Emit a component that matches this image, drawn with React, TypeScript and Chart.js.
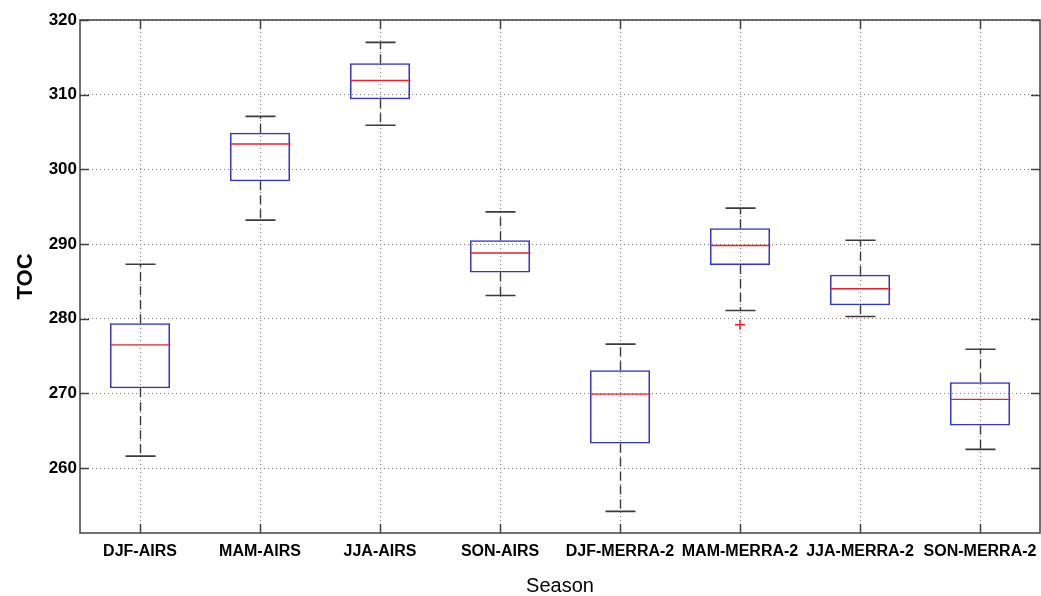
import React, { useEffect, useRef } from "react";
import { Chart, registerables } from "chart.js";

Chart.register(...registerables);

const categories = [
  "DJF-AIRS",
  "MAM-AIRS",
  "JJA-AIRS",
  "SON-AIRS",
  "DJF-MERRA-2",
  "MAM-MERRA-2",
  "JJA-MERRA-2",
  "SON-MERRA-2",
];
const whiskerLow = [261.6, 293.2, 305.9, 283.1, 254.2, 281.1, 280.3, 262.5];
const q1 = [270.7, 298.4, 309.4, 286.2, 263.3, 287.2, 281.8, 265.7];
const median = [276.5, 303.4, 311.9, 288.8, 269.9, 289.8, 284.0, 269.2];
const q3 = [279.4, 304.9, 314.2, 290.5, 273.1, 292.1, 285.9, 271.5];
const whiskerHigh = [287.3, 307.1, 317.0, 294.3, 276.6, 294.8, 290.5, 275.9];
const outliers: (number | null)[] = [null, null, null, null, null, 279.2, null, null];
const yTicks = [260, 270, 280, 290, 300, 310, 320];
const yMin = 251.3;
const yMax = 320;

const FONT = "'Liberation Sans', Arial, Helvetica, sans-serif";
const BOX_BLUE = "#3434c8";
const MEDIAN_RED = "#e8202a";
const WHISKER = "#3a3a3a";
const FRAME = "#404040";
const GRID = "#7a7a7a";

const boxPlugin = {
  id: "boxWhiskers",
  afterDatasetsDraw(chart: any) {
    const { ctx } = chart;
    const xs = chart.scales.x;
    const ys = chart.scales.y;
    const meta = chart.getDatasetMeta(0);
    ctx.save();
    categories.forEach((_, i) => {
      const bar = meta.data[i];
      const x = Math.round(xs.getPixelForValue(i)) + 0.5;
      const half = bar ? bar.width / 2 : 30;
      const capHalf = half / 2;
      const yHi = ys.getPixelForValue(whiskerHigh[i]);
      const yLo = ys.getPixelForValue(whiskerLow[i]);
      const yQ1 = ys.getPixelForValue(q1[i]);
      const yQ3 = ys.getPixelForValue(q3[i]);
      const yMed = ys.getPixelForValue(median[i]);
      ctx.strokeStyle = WHISKER;
      ctx.lineWidth = 1.4;
      ctx.setLineDash([9, 5]);
      ctx.beginPath();
      ctx.moveTo(x, yQ3);
      ctx.lineTo(x, yHi);
      ctx.moveTo(x, yQ1);
      ctx.lineTo(x, yLo);
      ctx.stroke();
      ctx.setLineDash([]);
      ctx.lineWidth = 1.6;
      ctx.beginPath();
      ctx.moveTo(x - capHalf, yHi);
      ctx.lineTo(x + capHalf, yHi);
      ctx.moveTo(x - capHalf, yLo);
      ctx.lineTo(x + capHalf, yLo);
      ctx.stroke();
      ctx.strokeStyle = MEDIAN_RED;
      ctx.lineWidth = 1.4;
      ctx.beginPath();
      ctx.moveTo(x - half, yMed);
      ctx.lineTo(x + half, yMed);
      ctx.stroke();
    });
    ctx.restore();
  },
  afterDraw(chart: any) {
    const { ctx, chartArea } = chart;
    const { left, right, top, bottom } = chartArea;
    const xs = chart.scales.x;
    const ys = chart.scales.y;
    const tl = 9;
    ctx.save();
    ctx.strokeStyle = FRAME;
    ctx.lineWidth = 1.5;
    ctx.setLineDash([]);
    ctx.strokeRect(left, top, right - left, bottom - top);
    ctx.beginPath();
    categories.forEach((_, i) => {
      const x = Math.round(xs.getPixelForValue(i)) + 0.5;
      ctx.moveTo(x, bottom);
      ctx.lineTo(x, bottom - tl);
      ctx.moveTo(x, top);
      ctx.lineTo(x, top + tl);
    });
    yTicks.forEach((v) => {
      const y = Math.round(ys.getPixelForValue(v)) + 0.5;
      ctx.moveTo(left, y);
      ctx.lineTo(left + tl, y);
      ctx.moveTo(right, y);
      ctx.lineTo(right - tl, y);
    });
    ctx.stroke();
    ctx.restore();
  },
};

export default function App() {
  const canvasRef = useRef<HTMLCanvasElement | null>(null);

  useEffect(() => {
    document.body.style.margin = "0";
    const canvas = canvasRef.current;
    if (!canvas) return;
    Chart.defaults.font.family = FONT;
    const chart = new Chart(canvas, {
      type: "bar",
      data: {
        labels: categories,
        datasets: [
          {
            type: "bar",
            label: "box",
            data: q1.map((v, i) => [v, q3[i]]) as any,
            backgroundColor: "rgba(0,0,0,0)",
            borderColor: BOX_BLUE,
            borderWidth: 1.5,
            borderSkipped: false,
            categoryPercentage: 1,
            barPercentage: 0.5,
          } as any,
          {
            type: "line",
            label: "outliers",
            data: outliers as any,
            showLine: false,
            pointStyle: "cross",
            pointRadius: 5,
            pointBorderWidth: 1.5,
            borderColor: MEDIAN_RED,
            backgroundColor: MEDIAN_RED,
          } as any,
        ],
      },
      options: {
        responsive: false,
        maintainAspectRatio: false,
        animation: false,
        devicePixelRatio: 1,
        layout: { autoPadding: false, padding: { top: 20, right: 1, left: 0, bottom: 0 } },
        plugins: {
          legend: { display: false },
          tooltip: { enabled: false },
        },
        scales: {
          x: {
            type: "category",
            offset: true,
            grid: {
              offset: false,
              color: GRID,
              lineWidth: 1,
              drawTicks: false,
            },
            border: { display: false, dash: [1, 3] },
            ticks: {
              color: "#000",
              font: { size: 16, weight: "bold" },
              padding: 9,
              maxRotation: 0,
              autoSkip: false,
            },
            title: {
              display: true,
              text: "Season",
              color: "#000",
              font: { size: 20, lineHeight: 1 },
              padding: { top: 0, bottom: 0 },
            },
            afterFit: (s: any) => {
              s.height = 63;
              s.paddingLeft = 0;
              s.paddingRight = 0;
            },
          },
          y: {
            type: "linear",
            min: yMin,
            max: yMax,
            afterBuildTicks: (s: any) => {
              s.ticks = yTicks.map((v) => ({ value: v }));
            },
            grid: {
              color: GRID,
              lineWidth: 1,
              drawTicks: false,
            },
            border: { display: false, dash: [1, 3] },
            ticks: {
              color: "#000",
              font: { size: 17, weight: "bold" },
              padding: 3,
            },
            title: {
              display: true,
              text: "TOC",
              color: "#000",
              font: { size: 22, weight: "bold", lineHeight: 1 },
              padding: { top: 15, bottom: 0 },
            },
            afterFit: (s: any) => {
              s.width = 80;
              s.paddingTop = 0;
              s.paddingBottom = 0;
            },
          },
        },
      } as any,
      plugins: [boxPlugin],
    });
    return () => chart.destroy();
  }, []);

  return (
    <div style={{ position: "absolute", left: 0, top: 0, width: 1041, height: 596, background: "#fff" }}>
      <canvas ref={canvasRef} width={1041} height={596} />
    </div>
  );
}
